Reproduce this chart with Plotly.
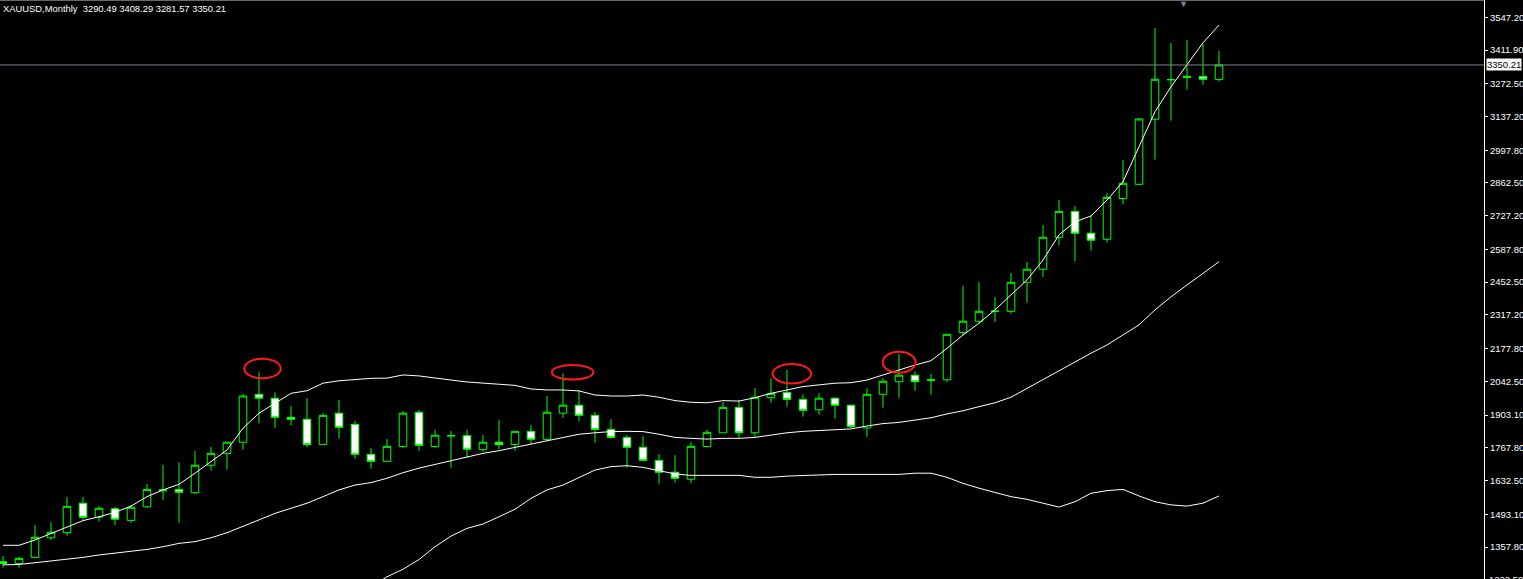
import plotly.graph_objects as go

symbol = "XAUUSD"
timeframe = "Monthly"

# Monthly candles, Apr 2019 .. Aug 2025 (index 0..76)
opens = [1297, 1290, 1315, 1396, 1417, 1539, 1481, 1516, 1468, 1524,
         1590, 1596, 1582, 1696, 1745, 1791, 1989, 1973, 1894, 1886,
         1782, 1911, 1865, 1741, 1712, 1773, 1915, 1773, 1817, 1818,
         1760, 1791, 1781, 1836, 1803, 1911, 1944, 1902, 1844, 1811,
         1770, 1716, 1667, 1638, 1773, 1830, 1935, 1830, 1975, 1997,
         1968, 1925, 1973, 1944, 1850, 1989, 2041, 2068, 2046, 2049,
         2244, 2291, 2331, 2332, 2452, 2506, 2638, 2745, 2655, 2630,
         2798, 2857, 3126, 3290, 3298, 3303, 3290.49]
highs = [1321, 1318, 1449, 1461, 1565, 1565, 1527, 1523, 1532, 1618,
         1697, 1708, 1755, 1771, 1791, 1990, 2081, 1997, 1940, 1973,
         1911, 1966, 1879, 1767, 1804, 1920, 1924, 1842, 1837, 1842,
         1821, 1883, 1836, 1862, 1982, 2076, 2006, 1916, 1886, 1821,
         1817, 1742, 1738, 1792, 1842, 1957, 1966, 2015, 2056, 2090,
         1989, 1994, 1976, 1945, 2014, 2056, 2156, 2084, 2073, 2237,
         2437, 2453, 2391, 2490, 2536, 2688, 2792, 2767, 2729, 2820,
         2957, 3131, 3503, 3441, 3453, 3437, 3408.29]
lows = [1273, 1273, 1312, 1387, 1405, 1470, 1463, 1450, 1458, 1520,
        1552, 1458, 1578, 1673, 1678, 1760, 1869, 1851, 1862, 1770,
        1781, 1806, 1723, 1682, 1712, 1768, 1756, 1768, 1686, 1727,
        1752, 1762, 1756, 1782, 1797, 1892, 1878, 1789, 1806, 1686,
        1714, 1620, 1624, 1621, 1770, 1830, 1809, 1814, 1954, 1938,
        1897, 1905, 1888, 1850, 1814, 1934, 1975, 2004, 1987, 2041,
        2233, 2283, 2288, 2322, 2368, 2475, 2605, 2539, 2584, 2617,
        2774, 2853, 2959, 3120, 3248, 3269, 3281.57]
closes = [1290, 1311, 1398, 1419, 1526, 1481, 1518, 1473, 1522, 1596,
          1595, 1584, 1696, 1745, 1791, 1982, 1973, 1894, 1886, 1781,
          1902, 1853, 1741, 1712, 1774, 1911, 1778, 1820, 1818, 1762,
          1791, 1781, 1836, 1803, 1915, 1944, 1902, 1844, 1811, 1770,
          1716, 1667, 1642, 1774, 1832, 1935, 1830, 1977, 1993, 1968,
          1923, 1973, 1944, 1855, 1989, 2043, 2068, 2041, 2049, 2237,
          2291, 2332, 2333, 2452, 2506, 2638, 2745, 2655, 2626, 2803,
          2861, 3127, 3291, 3289, 3303, 3291, 3350.21]

# Bollinger bands
bb_upper = [1365, 1365, 1387, 1413, 1442, 1467, 1483, 1501, 1527, 1566,
            1594, 1617, 1663, 1711, 1759, 1849, 1911, 1952, 1993, 2004,
            2035, 2045, 2051, 2055, 2056, 2069, 2065, 2055, 2048, 2040,
            2035, 2030, 2026, 2011, 2007, 2007, 2003, 1986, 1982, 1982,
            1986, 1977, 1963, 1956, 1954, 1963, 1961, 1975, 1993, 2007,
            2021, 2028, 2035, 2037, 2048, 2069, 2090, 2110, 2128, 2179,
            2234, 2283, 2338, 2400, 2462, 2544, 2648, 2702, 2726, 2792,
            2868, 3012, 3157, 3260, 3350, 3442, 3515]
bb_mid = [1284, 1286, 1293, 1300, 1308, 1315, 1325, 1332, 1339, 1348,
          1359, 1373, 1380, 1396, 1417, 1442, 1470, 1497, 1518, 1539,
          1566, 1594, 1614, 1624, 1642, 1665, 1684, 1700, 1713, 1731,
          1745, 1756, 1770, 1784, 1795, 1809, 1824, 1830, 1835, 1836,
          1835, 1824, 1811, 1807, 1804, 1807, 1807, 1811, 1821, 1830,
          1836, 1840, 1844, 1846, 1858, 1868, 1873, 1883, 1892, 1908,
          1921, 1938, 1954, 1977, 2014, 2048, 2087, 2124, 2159, 2193,
          2234, 2276, 2338, 2392, 2441, 2489, 2537]
bb_lower = [None] * 23 + [
    1192, 1235, 1266, 1306, 1359, 1403, 1435,
    1453, 1483, 1514, 1559, 1594, 1614, 1646, 1676, 1690, 1694,
    1687, 1673, 1660, 1654, 1654, 1654, 1654, 1646, 1646, 1651,
    1654, 1654, 1658, 1658, 1658, 1658, 1658, 1663, 1663, 1646,
    1621, 1601, 1584, 1566, 1555, 1539, 1523, 1545, 1580, 1591,
    1596, 1569, 1545, 1532, 1527, 1539, 1569]

# price scale labels
tick_values = [3547.2, 3411.9, 3272.5, 3137.2, 2997.8, 2862.5, 2727.2, 2587.8,
               2452.5, 2317.2, 2177.8, 2042.5, 1903.1, 1767.8, 1632.5, 1493.1,
               1357.8, 1222.5]
tick_labels = ["3547.20", "3411.90", "3272.50", "3137.20", "2997.80", "2862.50",
               "2727.20", "2587.80", "2452.50", "2317.20", "2177.80", "2042.50",
               "1903.10", "1767.80", "1632.50", "1493.10", "1357.80", "1222.50"]

# hand-drawn red ellipses: (first bar, last bar, low price, high price)
ellipses = [(15.08, 17.36, 2055, 2136),
            (34.3, 36.9, 2050, 2110),
            (48.1, 50.5, 2034, 2114),
            (54.98, 57.04, 2078, 2165)]

idx = list(range(len(opens)))

GREEN = "#00ff00"
FONT = "Liberation Sans"
Y_RANGE = [1225.7, 3618.7]

fig = go.Figure()

for band in (bb_upper, bb_mid, bb_lower):
    fig.add_trace(go.Scatter(x=idx, y=band, mode="lines",
                             line=dict(color="white", width=1),
                             hoverinfo="skip", showlegend=False,
                             connectgaps=False))

fig.add_trace(go.Candlestick(
    x=idx, open=opens, high=highs, low=lows, close=closes,
    increasing=dict(line=dict(color=GREEN, width=1), fillcolor="black"),
    decreasing=dict(line=dict(color=GREEN, width=1), fillcolor="white"),
    whiskerwidth=0, showlegend=False,
))

last_close = closes[-1]
shapes = [
    dict(type="line", xref="paper", yref="y", x0=0, x1=1,
         y0=last_close, y1=last_close, line=dict(color="#7c8590", width=1)),
    dict(type="line", xref="paper", yref="paper", x0=0, x1=1, y0=1, y1=1,
         line=dict(color="#d0d0d0", width=1)),
]
for x0, x1, y0, y1 in ellipses:
    shapes.append(dict(type="circle", xref="x", yref="y", x0=x0, x1=x1,
                       y0=y0, y1=y1, line=dict(color="#ff1a1a", width=2)))

header = f"{symbol},{timeframe}  {opens[-1]:.2f} {highs[-1]:.2f} {lows[-1]:.2f} {closes[-1]:.2f}"

annotations = [
    dict(text=header, xref="paper", yref="paper", x=0, y=1, xanchor="left",
         yanchor="top", xshift=1, yshift=-1, showarrow=False,
         font=dict(family=FONT, size=9.4, color="white")),
    dict(text=f"{last_close:.2f}", xref="paper", yref="y", x=1, y=last_close,
         xanchor="left", yanchor="middle", xshift=2, showarrow=False,
         bgcolor="white", borderpad=0,
         font=dict(family=FONT, size=9.5, color="black")),
    dict(text="▼", xref="paper", yref="paper", x=1183 / 1484, y=1,
         xanchor="center", yanchor="top", yshift=3, showarrow=False,
         font=dict(family=FONT, size=9, color="#7c8590")),
]

# lowest scale label sits on the bottom edge (only partly visible)
low_val, low_txt = tick_values[-1], tick_labels[-1]
annotations.append(dict(
    text=low_txt, xref="paper", yref="paper", x=1,
    y=(low_val - Y_RANGE[0]) / (Y_RANGE[1] - Y_RANGE[0]),
    xanchor="left", yanchor="middle", xshift=3, showarrow=False,
    font=dict(family=FONT, size=9.5, color="white")))

fig.update_layout(
    width=1523, height=579,
    margin=dict(l=0, r=39, t=0, b=0, autoexpand=False),
    paper_bgcolor="black", plot_bgcolor="black",
    boxgap=0.32,
    showlegend=False,
    shapes=shapes, annotations=annotations,
    xaxis=dict(range=[-0.1875, 92.5625], visible=False,
               rangeslider=dict(visible=False), showgrid=False),
    yaxis=dict(range=Y_RANGE, side="right", showgrid=False,
               zeroline=False, tickmode="array", tickvals=tick_values,
               ticktext=tick_labels, ticks="outside", ticklen=3,
               tickcolor="white", showline=True, linecolor="white",
               linewidth=1, automargin=False,
               tickfont=dict(family=FONT, size=9.5, color="white")),
    hovermode=False,
)

fig.write_html(
    "out.html",
    config={"displayModeBar": False},
    post_script="document.body.style.margin='0';document.body.style.padding='0';"
                "document.body.style.overflow='hidden';document.body.style.background='black';",
)
